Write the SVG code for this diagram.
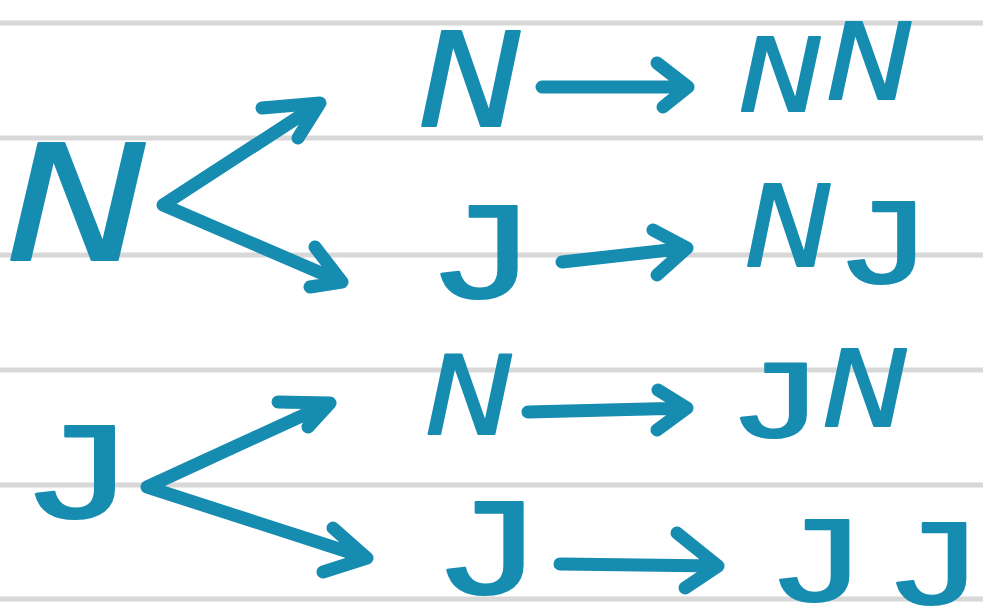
<svg xmlns="http://www.w3.org/2000/svg" width="983" height="608" viewBox="0 0 983 608">
<style>
.rule{stroke:#d8d8d8;stroke-width:5}
.n{font-family:"DejaVu Sans",sans-serif;font-style:oblique;fill:#168cb0;stroke:#168cb0;stroke-width:2;stroke-linejoin:round;text-anchor:middle}
.j{font-family:"Liberation Mono",monospace;fill:#168cb0;stroke:#168cb0;stroke-width:2;stroke-linejoin:round;text-anchor:middle}
.c{fill:none;stroke:#168cb0;stroke-width:13;stroke-linecap:round;stroke-linejoin:round}
</style>
<rect width="983" height="608" fill="#ffffff"/>
<g id="rules">
<line class="rule" x1="0" y1="23" x2="983" y2="23"/>
<line class="rule" x1="0" y1="138" x2="983" y2="138"/>
<line class="rule" x1="0" y1="255" x2="983" y2="255"/>
<line class="rule" x1="0" y1="370" x2="983" y2="370"/>
<line class="rule" x1="0" y1="485" x2="983" y2="485"/>
<line class="rule" x1="0" y1="599" x2="983" y2="599"/>
</g>
<g id="root-N"><text class="n" transform="translate(78,260) scale(1.2,1)" font-size="160">N</text></g>
<g id="root-J"><text class="j" transform="translate(78,518) scale(1.4,1)" font-size="140">J</text></g>
<g id="node-N1"><text class="n" transform="translate(471,126) scale(1.08,1)" font-size="130">N</text></g>
<g id="node-J1"><text class="j" transform="translate(482,298) scale(1.35,1)" font-size="140">J</text></g>
<g id="node-N2"><text class="n" transform="translate(470,434) scale(1.1,1)" font-size="108">N</text></g>
<g id="node-J2"><text class="j" transform="translate(488,594) scale(1.35,1)" font-size="140">J</text></g>
<g id="result-NN">
<text class="n" transform="translate(781,111) scale(1.1,1)" font-size="102">N</text>
<text class="n" transform="translate(870,99) scale(1.1,1)" font-size="106">N</text>
</g>
<g id="result-NJ">
<text class="n" transform="translate(789,266) scale(1.05,1)" font-size="112">N</text>
<text class="j" transform="translate(884,283) scale(1.35,1)" font-size="122">J</text>
</g>
<g id="result-JN">
<text class="j" transform="translate(776,437) scale(1.45,1)" font-size="112">J</text>
<text class="n" transform="translate(866,426) scale(1.1,1)" font-size="105">N</text>
</g>
<g id="result-JJ">
<text class="j" transform="translate(817,601) scale(1.4,1)" font-size="122">J</text>
<text class="j" transform="translate(934,604) scale(1.4,1)" font-size="122">J</text>
</g>
<g id="connectors">
<path class="c" d="M320,103 L163,205 L342,282 M262,108 L320,103 L298,138 M315,247 L342,282 L310,287"/>
<path class="c" d="M330,403 L147,487 L367,558 M278,402 L330,403 L308,427 M333,528 L367,558 L323,572"/>
<path class="c" d="M542,87 L688,87 M657,63 L688,87 L663,107"/>
<path class="c" d="M562,262 L687,248 M653,230 L687,248 L657,275"/>
<path class="c" d="M528,412 L687,408 M658,390 L687,408 L657,430"/>
<path class="c" d="M560,564 L718,566 M677,533 L718,566 L685,588"/>
</g>
</svg>
